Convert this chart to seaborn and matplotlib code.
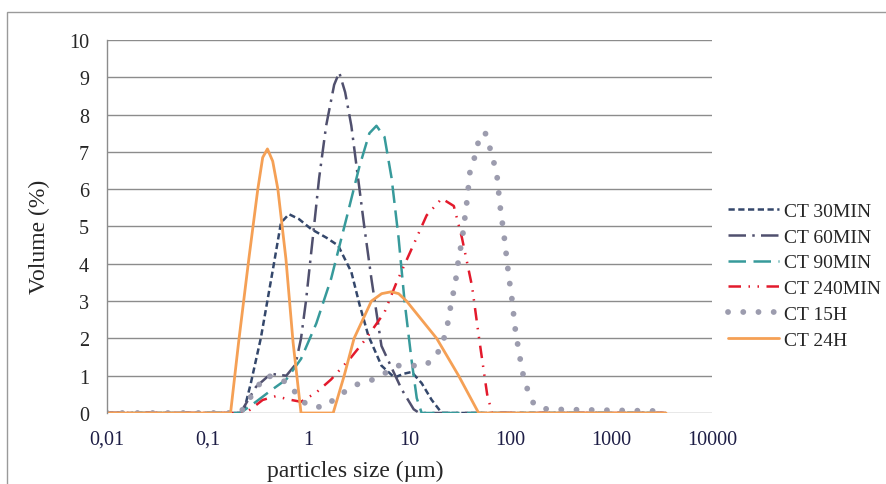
import numpy as np
import pandas as pd
import matplotlib
matplotlib.use("Agg")
import matplotlib.pyplot as plt
from matplotlib.patches import Rectangle
import seaborn as sns

# values (size in um, volume in %)
size_30 = [0.01, 0.21, 0.23, 0.267, 0.335, 0.452, 0.531, 0.638, 0.80, 1.06, 1.5, 1.96,
           2.65, 3.2, 3.91, 5.27, 7.1, 8.7, 10.5, 13.2, 16.6, 20.9, 3500]
vol_30 = [0, 0, 0.1, 0.8, 2.0, 4.0, 5.1, 5.33, 5.2, 4.93, 4.7, 4.49,
          3.78, 2.9, 2.07, 1.27, 0.95, 1.05, 1.1, 0.8, 0.35, 0.0, 0]

size_60 = [0.01, 0.21, 0.3, 0.42, 0.6, 0.74, 0.84, 0.94, 1.13, 1.27, 1.49, 1.79, 2.01,
           2.3, 2.65, 3.56, 4.19, 5.27, 6.95, 8.34, 11.0, 12.5, 3500]
vol_60 = [0, 0, 0.7, 1.05, 1.0, 1.3, 2.0, 3.0, 5.0, 6.3, 7.7, 8.8, 9.13,
          8.6, 7.7, 5.0, 3.6, 1.8, 1.1, 0.64, 0.1, 0, 0]

size_90 = [0.01, 0.21, 0.3, 0.42, 0.6, 0.84, 1.19, 1.67, 2.36, 3.18, 4.0, 4.7,
           5.65, 6.64, 7.79, 8.93, 10.5, 11.8, 13.2, 3500]
vol_90 = [0, 0, 0.3, 0.6, 0.9, 1.45, 2.4, 3.6, 5.2, 6.6, 7.5, 7.7,
          7.4, 6.3, 4.7, 3.0, 1.4, 0.4, 0, 0]

size_240 = [0.01, 0.238, 0.35, 0.47, 0.67, 0.84, 1.19, 1.67, 2.65, 3.73, 5.65, 7.44,
            10.5, 14.8, 20.9, 27.5, 33.1, 41.7, 49.0, 58.9, 65.8, 3500]
vol_240 = [0, 0, 0.35, 0.45, 0.35, 0.3, 0.55, 0.9, 1.5, 2.0, 2.7, 3.5,
           4.4, 5.3, 5.75, 5.55, 4.7, 3.4, 2.0, 0.5, 0, 0]

size_15h = [0.01, 0.21, 0.3, 0.376, 0.495, 0.66, 0.8, 0.99, 1.4, 1.8, 2.5, 3.1, 4.4,
            7.8, 14.2, 18.2, 21.4, 23.4, 26.3, 28.2, 30.9, 33.1, 37.2, 39.9, 44.8,
            48.9, 56.1, 62.8, 68.9, 73.8, 79.1, 86.7, 92.9, 97, 101.9, 109, 114,
            122, 128, 137, 151, 173, 233, 3500]
vol_15h = [0, 0, 0.65, 1.0, 0.95, 0.75, 0.4, 0.2, 0.15, 0.37, 0.65, 0.78, 0.9,
           1.27, 1.27, 1.5, 1.9, 2.25, 3.05, 3.4, 4.2, 4.6, 5.7, 6.5, 6.9,
           7.35, 7.53, 7.1, 6.7, 6.35, 5.55, 4.75, 4.05, 3.6, 3.24, 2.52, 2.06,
           1.66, 1.27, 0.91, 0.56, 0.21, 0.1, 0.05]

size_24h = [0.01, 0.168, 0.202, 0.255, 0.313, 0.35, 0.39, 0.44, 0.495, 0.595, 0.70, 0.84,
            1.75, 2.25, 2.82, 4.19, 5.3, 6.6, 7.8, 9.35, 18.6, 30.7, 48.5, 3500]
vol_24h = [0, 0, 1.9, 4.13, 6.0, 6.85, 7.08, 6.75, 6.0, 4.13, 1.9, 0,
           0, 1.0, 2.0, 3.0, 3.2, 3.25, 3.2, 3.0, 2.0, 1.0, 0, 0]

labels = ["CT 30MIN", "CT 60MIN", "CT 90MIN", "CT 240MIN", "CT 15H", "CT 24H"]
x_ticks = [0.01, 0.1, 1, 10, 100, 1000, 10000]
x_ticklabels = ["0,01", "0,1", "1", "10", "100", "1000", "10000"]
y_ticks = list(range(0, 11))

series = [(size_30, vol_30), (size_60, vol_60), (size_90, vol_90),
          (size_240, vol_240), (size_15h, vol_15h), (size_24h, vol_24h)]
frames = []
for lab, (s, v) in zip(labels, series):
    frames.append(pd.DataFrame({"size": s, "volume": v, "sample": lab}))
df = pd.concat(frames, ignore_index=True)

styles = {
    "CT 30MIN": dict(color="#34476B", linewidth=1.8, linestyle=(0, (2.5, 1.4))),
    "CT 60MIN": dict(color="#50506E", linewidth=1.8, linestyle=(0, (7, 2.5, 1, 2.5))),
    "CT 90MIN": dict(color="#379A9B", linewidth=1.8, linestyle=(0, (7, 3))),
    "CT 240MIN": dict(color="#E31A2C", linewidth=1.8, linestyle=(0, (5, 3, 0.6, 3, 0.6, 3))),
    "CT 15H": dict(color="#9C9CAE", linewidth=4.2, linestyle=(0, (0.01, 2.6)),
                   dash_capstyle="round"),
    "CT 24H": dict(color="#F5A055", linewidth=2.0, linestyle="-"),
}

sns.set_style("white")
plt.rcParams["font.family"] = ["Liberation Serif", "DejaVu Serif"]

fig = plt.figure(figsize=(8.86, 4.85), dpi=100)
ax = fig.add_axes([107 / 886, 71 / 485, 605 / 886, 373 / 485])

for lab in labels:
    sub = df[df["sample"] == lab]
    sns.lineplot(data=sub, x="size", y="volume", ax=ax, label=lab,
                 estimator=None, errorbar=None, sort=False, **styles[lab])

ax.set_xscale("log")
ax.set_xlim(0.01, 10000)
ax.set_ylim(0, 10)
ax.set_xticks(x_ticks)
ax.set_xticklabels(x_ticklabels)
ax.minorticks_off()
ax.set_yticks(y_ticks)
ax.tick_params(axis="both", length=0, labelsize=14.5)
ax.tick_params(axis="y", pad=13)
ax.tick_params(axis="x", pad=12, labelcolor="#1E1E46")
ax.yaxis.grid(True, color="#8C8C8C", linewidth=1.0)
ax.xaxis.grid(False)
ax.set_axisbelow(True)
for sp in ["top", "right", "bottom"]:
    ax.spines[sp].set_visible(False)
ax.spines["left"].set_color("#8C8C8C")
ax.spines["left"].set_linewidth(1.0)

ax.set_xlabel("particles size (µm)", fontsize=17)
ax.xaxis.set_label_coords(248 / 605, -0.125)
ax.set_ylabel("Volume (%)", fontsize=17)
ax.yaxis.set_label_coords(-0.094, 0.475)

leg = ax.legend(loc="center left", bbox_to_anchor=(728 / 886, 1 - 276.5 / 485),
                bbox_transform=fig.transFigure, frameon=False, fontsize=14,
                handlelength=2.6, handletextpad=0.3, labelspacing=0.42,
                borderpad=0, borderaxespad=0)

fig.add_artist(Rectangle((7 / 886, -0.1), 1.2, 1.1 - 13 / 485,
                         transform=fig.transFigure, fill=False,
                         edgecolor="#9A9A9A", linewidth=1.0, clip_on=False))

fig.savefig("out.png", dpi=100)
